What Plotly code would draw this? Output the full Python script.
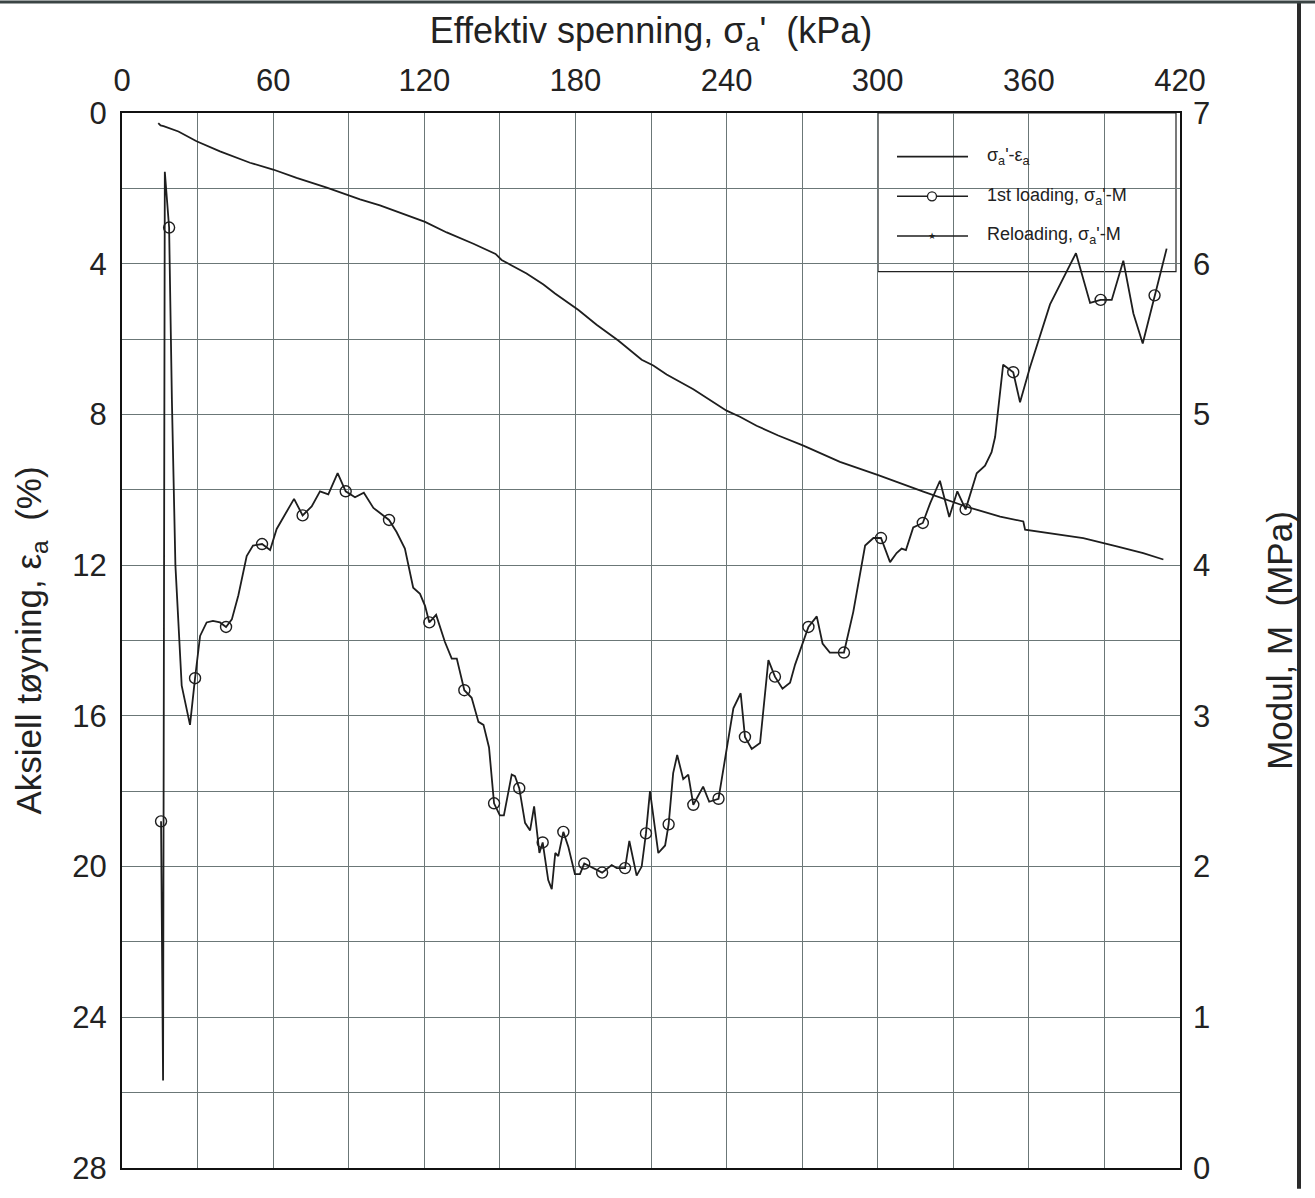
import plotly.graph_objects as go

# ---------------- data ----------------
# sigma_a' - eps_a curve (left axis, %)
strain_sigma = [14.4, 15.3, 16.5, 22.4, 29.6, 38.9, 50.8, 60.0, 69.3, 81.3, 94.5, 102.4,
                120.3, 128.9, 139.5, 148.3, 150.7, 160.6, 167.3, 171.9, 181.2, 188.4,
                197.0, 206.3, 210.9, 216.2, 226.8, 240.0, 245.3, 251.9, 260.5, 270.5,
                285.0, 300.2, 318.1, 335.3, 348.6, 357.8, 358.5, 368.4, 381.6, 394.9,
                405.4, 413.4]
strain_eps = [0.27, 0.33, 0.35, 0.49, 0.75, 1.02, 1.32, 1.50, 1.72, 1.98, 2.29, 2.45,
              2.89, 3.17, 3.47, 3.74, 3.90, 4.26, 4.55, 4.79, 5.23, 5.62,
              6.04, 6.55, 6.70, 6.94, 7.33, 7.90, 8.06, 8.30, 8.56, 8.83,
              9.26, 9.61, 10.05, 10.45, 10.71, 10.84, 11.06, 11.15, 11.28, 11.50,
              11.68, 11.85]

# 1st loading, sigma_a' - M (right axis, MPa); mark = 1 where a circle is drawn
mod_sigma = [15.5, 16.3, 17.0, 18.7, 19.8, 20.4, 21.2, 23.7, 27.0, 29.0, 31.0, 33.6,
             36.1, 38.9, 41.3, 43.6, 46.2, 49.5, 52.0, 55.6, 58.8, 61.4, 64.7, 68.3,
             71.7, 75.3, 78.6, 81.9, 85.6, 88.8, 92.5, 96.0, 99.8, 106.0, 109.0, 112.3,
             115.6, 118.3, 120.3, 122.0, 124.7, 128.2, 130.9, 132.9, 135.9, 138.8, 141.5,
             143.5, 145.7, 146.8, 147.7, 150.0, 151.6, 154.7, 156.0, 157.7, 160.0, 162.0,
             163.6, 165.7, 167.0, 169.2, 170.6, 172.0, 173.2, 175.2, 177.2, 179.8, 181.8,
             183.5, 187.0, 190.6, 194.4, 196.4, 199.7, 201.4, 204.3, 206.3, 208.0, 209.6,
             212.9, 215.6, 217.0, 218.8, 220.4, 222.8, 224.8, 226.8, 230.7, 233.1, 236.8,
             240.0, 242.7, 245.6, 247.3, 250.0, 253.3, 256.6, 259.2, 262.2, 265.2, 267.2,
             272.5, 275.8, 278.1, 281.0, 286.6, 290.3, 295.0, 298.3, 301.3, 304.9, 307.5,
             309.5, 311.2, 314.1, 317.9, 320.8, 324.7, 328.4, 331.6, 334.9, 339.3, 342.6,
             345.2, 346.6, 349.8, 353.8, 356.5, 360.4, 368.4, 378.7, 384.3, 388.5, 392.9,
             397.5, 401.5, 405.2, 409.9, 414.7]
mod_M = [2.30, 0.58, 6.61, 6.24, 5.10, 4.59, 4.00, 3.20, 2.94, 3.25, 3.53, 3.62,
         3.63, 3.62, 3.59, 3.64, 3.80, 4.06, 4.13, 4.14, 4.10, 4.24, 4.34, 4.44,
         4.33, 4.39, 4.49, 4.47, 4.61, 4.49, 4.45, 4.48, 4.38, 4.30, 4.22, 4.11,
         3.85, 3.81, 3.73, 3.62, 3.67, 3.49, 3.38, 3.38, 3.17, 3.12, 2.96,
         2.94, 2.79, 2.61, 2.42, 2.34, 2.34, 2.61, 2.60, 2.52, 2.29, 2.24,
         2.40, 2.09, 2.16, 1.91, 1.85, 2.09, 2.07, 2.23, 2.13, 1.95, 1.95,
         2.02, 1.99, 1.96, 2.01, 1.99, 1.99, 2.17, 1.94, 2.00, 2.22, 2.50,
         2.09, 2.14, 2.28, 2.62, 2.74, 2.58, 2.61, 2.41, 2.53, 2.43, 2.45,
         2.79, 3.05, 3.15, 2.86, 2.78, 2.82, 3.37, 3.26, 3.18, 3.22, 3.34,
         3.59, 3.66, 3.48, 3.42, 3.42, 3.69, 4.13, 4.18, 4.18, 4.02, 4.08,
         4.11, 4.10, 4.25, 4.28, 4.41, 4.56, 4.32, 4.49, 4.37, 4.61, 4.66,
         4.75, 4.85, 5.33, 5.28, 5.08, 5.31, 5.73, 6.07, 5.74, 5.76, 5.76,
         6.02, 5.67, 5.47, 5.79, 6.10]
mod_mark = [1, 0, 0, 1, 0, 0, 0, 0, 0, 1, 0, 0,
            0, 0, 1, 0, 0, 0, 0, 1, 0, 0, 0, 0,
            1, 0, 0, 0, 0, 1, 0, 0, 0, 1, 0, 0,
            0, 0, 0, 1, 0, 0, 0, 0, 1, 0, 0,
            0, 0, 0, 1, 0, 0, 0, 0, 1, 0, 0,
            0, 0, 1, 0, 0, 0, 0, 1, 0, 0, 0,
            1, 0, 1, 0, 0, 1, 0, 0, 0, 1, 0,
            0, 0, 1, 0, 0, 0, 0, 1, 0, 0, 1,
            0, 0, 0, 1, 0, 0, 0, 1, 0, 0, 0,
            1, 0, 0, 0, 1, 0, 0, 0, 1, 0, 0,
            0, 0, 0, 1, 0, 0, 0, 0, 1, 0, 0,
            0, 0, 0, 1, 0, 0, 0, 0, 0, 1, 0,
            0, 0, 0, 1, 0]

# Reloading, sigma_a' - M : no data points shown in the chart
reload_sigma = []
reload_M = []

x_ticks = [0, 60, 120, 180, 240, 300, 360, 420]
y_ticks = [0, 4, 8, 12, 16, 20, 24, 28]
y2_ticks = [0, 1, 2, 3, 4, 5, 6, 7]

legend_labels = ["σ<sub>a</sub>'-ε<sub>a</sub>",
                 "1st loading, σ<sub>a</sub>'-M",
                 "Reloading, σ<sub>a</sub>'-M"]

# ---------------- figure ----------------
FONT = "Liberation Sans, Arial, Helvetica, sans-serif"
INK = "#1e1e1e"
GRID = "#6b7777"

fig = go.Figure()

fig.add_trace(go.Scatter(x=strain_sigma, y=strain_eps, mode="lines",
                         line=dict(color=INK, width=1.8), xaxis="x", yaxis="y",
                         showlegend=False))

fig.add_trace(go.Scatter(x=mod_sigma, y=mod_M, mode="lines",
                         line=dict(color=INK, width=1.8), xaxis="x", yaxis="y2",
                         showlegend=False))

mx = [s for s, m in zip(mod_sigma, mod_mark) if m]
my = [v for v, m in zip(mod_M, mod_mark) if m]
fig.add_trace(go.Scatter(x=mx, y=my, mode="markers",
                         marker=dict(symbol="circle-open", size=11,
                                     color=INK, line=dict(width=1.4, color=INK)),
                         xaxis="x", yaxis="y2", showlegend=False))

fig.add_trace(go.Scatter(x=reload_sigma, y=reload_M, mode="lines+markers",
                         line=dict(color=INK, width=1.8),
                         marker=dict(symbol="star", size=7, color=INK),
                         xaxis="x", yaxis="y2", showlegend=False))

tickfont = dict(family=FONT, size=31, color="#222222")
titlefont = dict(family=FONT, size=35, color="#222222")

fig.update_layout(
    width=1315, height=1198,
    margin=dict(l=122, r=135, t=113, b=21),
    paper_bgcolor="white", plot_bgcolor="white",
    showlegend=False,
    xaxis=dict(
        side="top", range=[0, 420], tickvals=x_ticks, ticks="",
        ticklabelstandoff=8, tickfont=tickfont,
        showgrid=True, gridcolor=GRID, gridwidth=1,
        minor=dict(dtick=30, showgrid=True, gridcolor=GRID, gridwidth=1),
        showline=True, mirror=True, linecolor="#111111", linewidth=2,
        zeroline=False,
        title=dict(text="Effektiv spenning, σ<sub>a</sub>'  (kPa)",
                   font=dict(family=FONT, size=36, color="#222222"),
                   standoff=8),
    ),
    yaxis=dict(
        range=[28, 0], tickvals=y_ticks, ticks="",
        ticklabelstandoff=7, tickfont=tickfont,
        showgrid=True, gridcolor=GRID, gridwidth=1,
        minor=dict(dtick=2, showgrid=True, gridcolor=GRID, gridwidth=1),
        showline=True, mirror=True, linecolor="#111111", linewidth=2,
        zeroline=False,
        title=dict(text="Aksiell tøyning, ε<sub>a</sub>  (%)", font=titlefont,
                   standoff=20),
    ),
    yaxis2=dict(
        overlaying="y", side="right", range=[0, 7], tickvals=y2_ticks, ticks="",
        ticklabelstandoff=12, tickfont=tickfont, showgrid=False, zeroline=False,
        showline=False,
        title=dict(text="Modul, M  (MPa)", font=titlefont, standoff=58),
    ),
)

# ---------- legend drawn manually (box at top-right inside plot) ----------
def px_x(p):
    return (p - 122) / 1058.0

def px_y(p):
    return (1177 - p) / 1064.0

shapes = []
shapes.append(dict(type="rect", xref="paper", yref="paper",
                   x0=px_x(878), x1=px_x(1176), y0=px_y(273), y1=px_y(113),
                   line=dict(color="#222222", width=1.2), fillcolor="white",
                   layer="between"))
rows = [157, 197, 237]
for r in rows:
    shapes.append(dict(type="line", xref="paper", yref="paper",
                       x0=px_x(897), x1=px_x(968), y0=px_y(r), y1=px_y(r),
                       line=dict(color=INK, width=1.6), layer="above"))
shapes.append(dict(type="circle", xref="paper", yref="paper",
                   xsizemode="pixel", ysizemode="pixel",
                   xanchor=px_x(932), yanchor=px_y(rows[1]),
                   x0=-4.5, x1=4.5, y0=-4.5, y1=4.5,
                   line=dict(color=INK, width=1.3), fillcolor="white",
                   layer="above"))
# page border marks of the scanned sheet
shapes.append(dict(type="line", xref="paper", yref="paper",
                   x0=px_x(1299), x1=px_x(1299), y0=px_y(1198), y1=px_y(0),
                   line=dict(color="#2a2a2a", width=4)))
shapes.append(dict(type="line", xref="paper", yref="paper",
                   x0=px_x(0), x1=px_x(1315), y0=px_y(1), y1=px_y(1),
                   line=dict(color="#3a4444", width=3)))

annotations = []
for r, lab in zip(rows, legend_labels):
    annotations.append(dict(xref="paper", yref="paper", x=px_x(985), y=px_y(r),
                            xanchor="left", yanchor="middle", text=lab,
                            showarrow=False,
                            font=dict(family=FONT, size=18, color="#222222")))
annotations.append(dict(xref="paper", yref="paper", x=px_x(932), y=px_y(rows[2]),
                        xanchor="center", yanchor="middle", text="★",
                        showarrow=False,
                        font=dict(family="DejaVu Sans", size=9, color=INK)))

fig.update_layout(shapes=shapes, annotations=annotations)

fig.write_html("out.html")
